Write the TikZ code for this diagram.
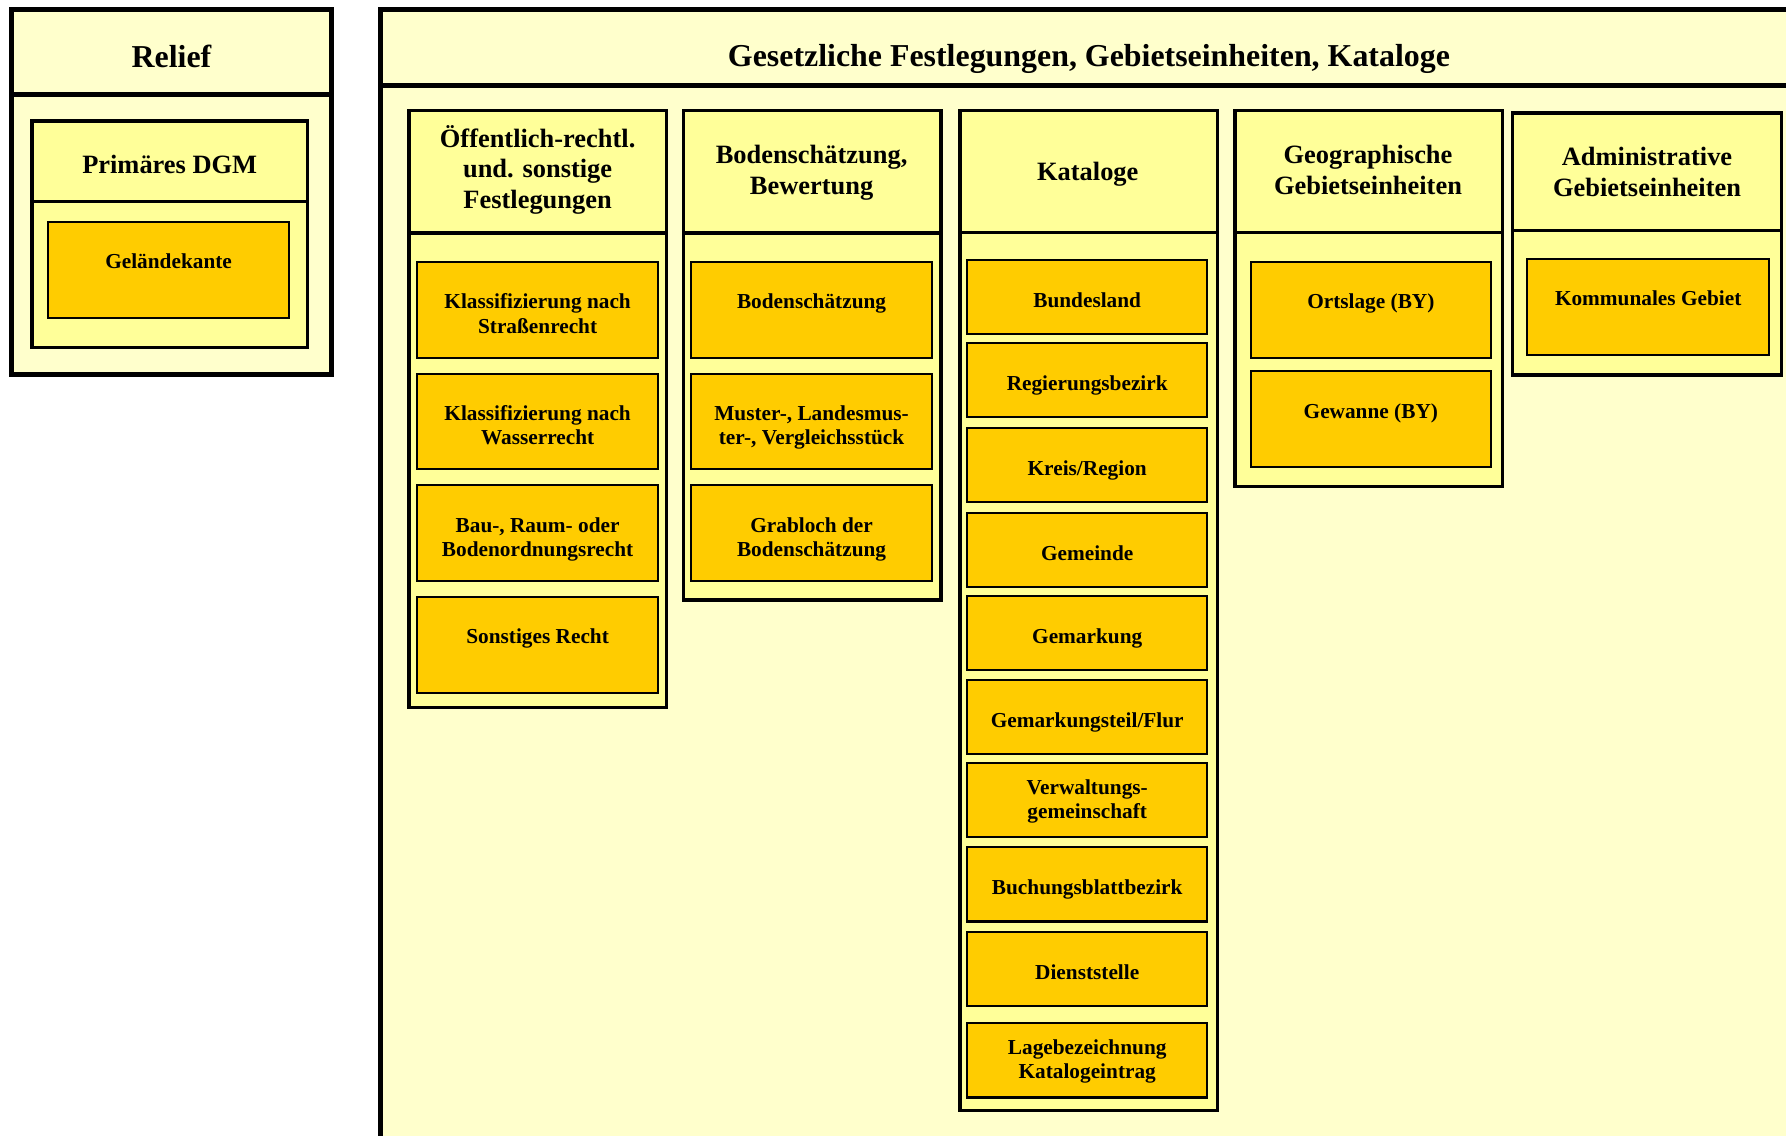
\documentclass[tikz,border=0pt]{standalone}
\usepackage{fontspec}
\setmainfont{Liberation Serif}
\definecolor{bgpale}{HTML}{FFFFCC}
\definecolor{colfill}{HTML}{FFFF99}
\definecolor{itemfill}{HTML}{FFCC00}
\newcommand\tstrut{\rule{0pt}{24pt}}
\tikzset{
  outerbox/.style={draw=black, line width=4.5pt, fill=bgpale},
  colbox/.style={draw=black, line width=3.2pt, fill=colfill},
  outersep/.style={line width=4.5pt},
  colsep/.style={line width=3.2pt},
  bigtitle/.style={font=\bfseries\fontsize{28}{33}\selectfont, align=center, inner sep=0pt, anchor=north},
  coltitle/.style={font=\bfseries\fontsize{23.2}{26.8}\selectfont, align=center, inner sep=0pt, anchor=north},
  itemtxt/.style={font=\bfseries\fontsize{18.7}{21.4}\selectfont, align=center, inner sep=0pt, anchor=north},
  itembox/.style={draw=black, line width=1.8pt, fill=itemfill, inner sep=0pt, minimum width=211pt, minimum height=84pt},
  catbox/.style={itembox, minimum height=65pt},
}
\begin{document}
\begin{tikzpicture}[x=1pt, y=-1pt]
\useasboundingbox (0,0) rectangle (1568,997);
\clip (0,0) rectangle (1568,997);
\fill[white] (0,0) rectangle (1568,997);

% ---------------- Relief ----------------
\draw[outerbox] (10,8) rectangle (291,329);
\draw[outersep] (10,83) -- (291,83);
\node[bigtitle] (relief) at (150.5,35) {\tstrut Relief};
\draw[colbox] (28,106) rectangle (270,305);
\draw[colsep] (28,177) -- (270,177);
\node[coltitle] (dgm) at (149,128) {\tstrut Primäres DGM};
\node[itembox, minimum width=212pt] (gk) at (148,237) {};
\node[itemtxt] (gkt) at (148,211.6) {\tstrut Geländekante};

% ---------------- Big box ----------------
\draw[outerbox] (334,8) rectangle (1590,1020);
\draw[outersep] (334,75) -- (1590,75);
\node[bigtitle] (gesetz) at (956,34.5) {\tstrut Gesetzliche Festlegungen, Gebietseinheiten, Kataloge};

% Column 1
\draw[colbox] (359,97) rectangle (585,621);
\draw[colsep] (359,204.5) -- (585,204.5);
\node[coltitle] (c1) at (472,105) {\tstrut Öffentlich-rechtl.\\und. sonstige\\Festlegungen};
\node[itembox, minimum width=212pt] (c1a) at (472,272) {};
\node[itemtxt] (c1at) at (472,247) {\tstrut Klassifizierung nach\\Straßenrecht};
\node[itembox, minimum width=212pt] (c1b) at (472,370) {};
\node[itemtxt] (c1bt) at (472,345) {\tstrut Klassifizierung nach\\Wasserrecht};
\node[itembox, minimum width=212pt] (c1c) at (472,468) {};
\node[itemtxt] (c1ct) at (472,443) {\tstrut Bau-, Raum- oder\\Bodenordnungsrecht};
\node[itembox, minimum width=212pt] (c1d) at (472,566) {};
\node[itemtxt] (c1dt) at (472,541) {\tstrut Sonstiges Recht};

% Column 2
\draw[colbox] (600,97) rectangle (826,527);
\draw[colsep] (600,204.5) -- (826,204.5);
\node[coltitle] (c2) at (712.5,119.4) {\tstrut Bodenschätzung,\\Bewertung};
\node[itembox] (c2a) at (712.5,272) {};
\node[itemtxt] (c2at) at (712.5,247) {\tstrut Bodenschätzung};
\node[itembox] (c2b) at (712.5,370) {};
\node[itemtxt] (c2bt) at (712.5,345) {\tstrut Muster-, Landesmus-\\ter-, Vergleichsstück};
\node[itembox] (c2c) at (712.5,468) {};
\node[itemtxt] (c2ct) at (712.5,443) {\tstrut Grabloch der\\Bodenschätzung};

% Column 3
\draw[colbox] (843,97) rectangle (1069,975);
\draw[colsep] (843,204) -- (1069,204);
\node[coltitle] (c3) at (955,134.6) {\tstrut Kataloge};
\node[catbox] (k1) at (954.5,260.5) {};
\node[itemtxt] (k1t) at (954.5,245.5) {\tstrut Bundesland};
\node[catbox] (k2) at (954.5,333.5) {};
\node[itemtxt] (k2t) at (954.5,318.5) {\tstrut Regierungsbezirk};
\node[catbox] (k3) at (954.5,408.5) {};
\node[itemtxt] (k3t) at (954.5,393.5) {\tstrut Kreis/Region};
\node[catbox] (k4) at (954.5,482.5) {};
\node[itemtxt] (k4t) at (954.5,467.5) {\tstrut Gemeinde};
\node[catbox] (k5) at (954.5,555.5) {};
\node[itemtxt] (k5t) at (954.5,540.5) {\tstrut Gemarkung};
\node[catbox] (k6) at (954.5,629.5) {};
\node[itemtxt] (k6t) at (954.5,614.5) {\tstrut Gemarkungsteil/Flur};
\node[catbox] (k7) at (954.5,702.5) {};
\node[itemtxt] (k7t) at (954.5,673) {\tstrut Verwaltungs-\\gemeinschaft};
\node[catbox] (k8) at (954.5,776.5) {};
\node[itemtxt] (k8t) at (954.5,761.5) {\tstrut Buchungsblattbezirk};
\node[catbox] (k9) at (954.5,850.5) {};
\node[itemtxt] (k9t) at (954.5,835.5) {\tstrut Dienststelle};
\node[catbox] (k10) at (954.5,931) {};
\node[itemtxt] (k10t) at (954.5,901.5) {\tstrut Lagebezeichnung\\Katalogeintrag};

% Column 4
\draw[colbox] (1084,97) rectangle (1319,427);
\draw[colsep] (1084,204) -- (1319,204);
\node[coltitle] (c4) at (1201,119.5) {\tstrut Geographische\\Gebietseinheiten};
\node[itembox] (g1) at (1203.5,272) {};
\node[itemtxt] (g1t) at (1203.5,247) {\tstrut Ortslage (BY)};
\node[itembox] (g2) at (1203.5,368) {};
\node[itemtxt] (g2t) at (1203.5,343) {\tstrut Gewanne (BY)};

% Column 5
\draw[colbox] (1328,99) rectangle (1564,329);
\draw[colsep] (1328,202.5) -- (1564,202.5);
\node[coltitle] (c5) at (1446,121.5) {\tstrut Administrative\\Gebietseinheiten};
\node[itembox, minimum width=212pt, minimum height=85pt] (a1) at (1447,269.5) {};
\node[itemtxt] (a1t) at (1447,244) {\tstrut Kommunales Gebiet};
\end{tikzpicture}
\end{document}
